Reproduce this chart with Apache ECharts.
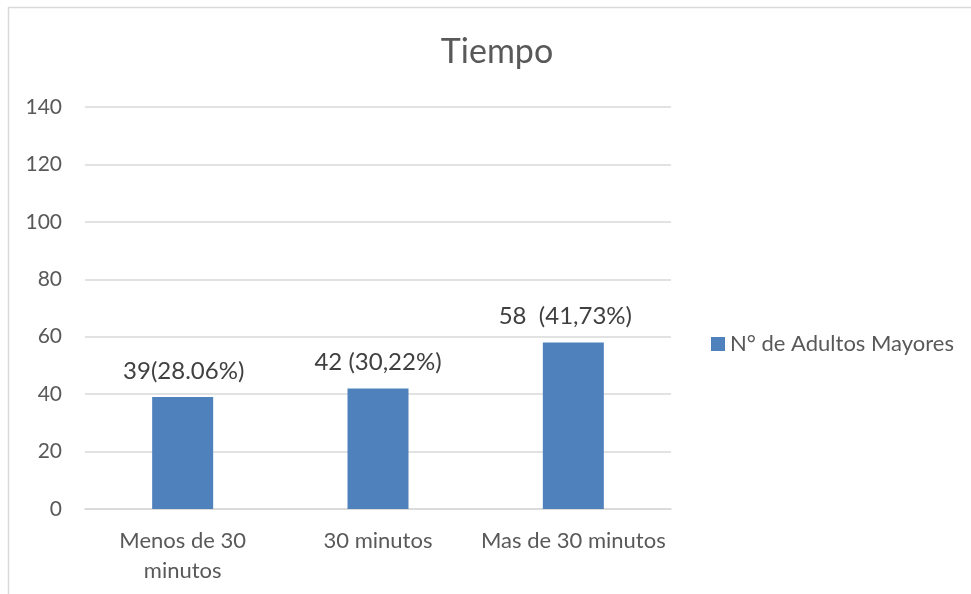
<!DOCTYPE html>
<html>
<head>
<meta charset="utf-8">
<script src="https://cdn.jsdelivr.net/npm/echarts@6/dist/echarts.min.js"></script>
<style>html,body{margin:0;padding:0;background:#fff}#c{width:971px;height:594px}</style>
</head>
<body>
<div id="c"></div>
<script>
const categories = ['Menos de 30\nminutos', '30 minutos', 'Mas de 30 minutos'];
const values = [39, 42, 58];
const labels = ['39(28.06%)', '42 (30,22%)', '58  (41,73%)'];
const seriesName = 'N° de Adultos Mayores';
const titleText = 'Tiempo';
const labelOffsets = [[1, 0], [0, 0], [-8, 0]];

const font = 'Lato, Open Sans, sans-serif';
const chart = echarts.init(document.getElementById('c'), null, {renderer: 'canvas'});
chart.setOption({
  animation: false,
  backgroundColor: '#fff',
  graphic: [{
    type: 'rect', shape: {x: 8.5, y: 7.5, width: 1000, height: 1000},
    style: {fill: 'none', stroke: '#d9d9d9', lineWidth: 1.5}, silent: true
  }],
  title: {
    text: titleText, left: 492, top: 30, textAlign: 'center',
    textStyle: {fontFamily: font, fontSize: 34, fontWeight: 'normal', color: '#595959'}
  },
  legend: {
    data: [seriesName], left: 706, top: 328, itemWidth: 14, itemHeight: 14,
    icon: 'rect',
    textStyle: {fontFamily: font, fontSize: 22, color: '#595959'}
  },
  grid: {left: 85, right: 300, top: 107, bottom: 85},
  xAxis: {
    type: 'category', data: categories,
    axisLine: {lineStyle: {color: '#d9d9d9', width: 1.5}},
    axisTick: {show: false},
    axisLabel: {fontFamily: font, fontSize: 22, color: '#595959', lineHeight: 30, margin: 17, interval: 0}
  },
  yAxis: {
    type: 'value', min: 0, max: 140, interval: 20,
    axisLine: {show: false}, axisTick: {show: false},
    splitLine: {lineStyle: {color: '#d9d9d9', width: 1.5}},
    axisLabel: {fontFamily: font, fontSize: 21, color: '#595959', margin: 23}
  },
  series: [{
    name: seriesName, type: 'bar', barWidth: 61,
    itemStyle: {color: '#4f81bd'},
    data: values.map((v, i) => ({
      value: v,
      label: {
        show: true, position: 'top', distance: 14, offset: labelOffsets[i],
        formatter: labels[i],
        fontFamily: font, fontSize: 24, color: '#404040'
      }
    }))
  }]
});
</script>
</body>
</html>
